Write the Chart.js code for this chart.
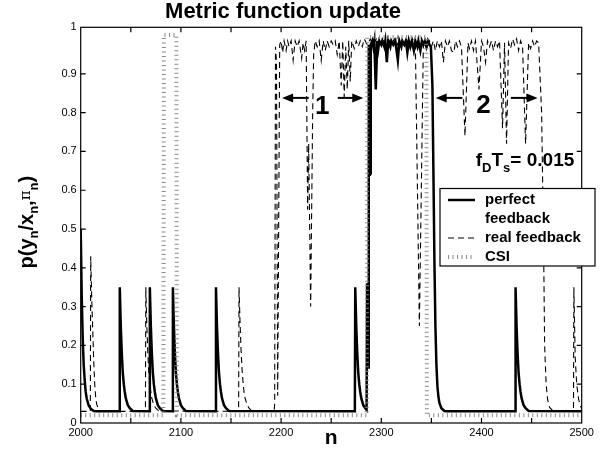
<!DOCTYPE html>
<html lang="en">
<head>
<meta charset="UTF-8">
<title>Metric function update</title>
<script src="https://cdn.jsdelivr.net/npm/chart.js"></script>
<style>
  html, body { margin: 0; padding: 0; background: #fff; }
  canvas { display: block; }
</style>
</head>
<body>
<canvas id="metric_chart" width="605" height="455"></canvas>
<script>
const FONT = "'Liberation Sans', Arial, Helvetica, sans-serif";

// axis ticks: labels every 100 on n, marks every 50
const xTickValues = [2000, 2100, 2200, 2300, 2400, 2500];
const xTickLabels = ['2000', '2100', '2200', '2300', '2400', '2500'];
const xTickMarks = [2050, 2100, 2150, 2200, 2250, 2300, 2350, 2400, 2450];
const yTickValues = [0, 0.1, 0.2, 0.3, 0.4, 0.5, 0.6, 0.7, 0.8, 0.9, 1.02];
const yTickLabels = ['0', '0.1', '0.2', '0.3', '0.4', '0.5', '0.6', '0.7', '0.8', '0.9', '1'];
const yTickMarks = [0.1, 0.2, 0.3, 0.4, 0.5, 0.6, 0.7, 0.8, 0.9];

const seriesNames = ['perfect feedback', 'real feedback', 'CSI'];
const legendText = [['perfect', 'feedback'], ['real feedback'], ['CSI']];

// [n, p]
const perfectFeedback = [
  [2000, 0.50], [2001, 0.33], [2002, 0.22], [2003, 0.15], [2004, 0.11], [2005, 0.08], [2006, 0.063],
  [2008, 0.045], [2010, 0.037], [2013, 0.031], [2016, 0.03],
  [2038.6, 0.03], [2039, 0.35], [2040, 0.25], [2041, 0.18], [2042, 0.13], [2043, 0.10], [2044, 0.08],
  [2045, 0.064], [2047, 0.046], [2049, 0.038], [2052, 0.031],
  [2068.6, 0.03], [2069, 0.35], [2070, 0.25], [2071, 0.18], [2072, 0.13], [2073, 0.10], [2074, 0.08],
  [2075, 0.064], [2077, 0.046], [2079, 0.038], [2082, 0.031],
  [2091.6, 0.03], [2092, 0.35], [2093, 0.25], [2094, 0.18], [2095, 0.13], [2096, 0.10], [2097, 0.08],
  [2098, 0.064], [2100, 0.046], [2102, 0.038], [2105, 0.031],
  [2134.6, 0.03], [2135, 0.35], [2136, 0.25], [2137, 0.18], [2138, 0.13], [2139, 0.10], [2140, 0.08],
  [2141, 0.064], [2143, 0.046], [2145, 0.038], [2148, 0.031],
  [2273.6, 0.03], [2274, 0.35], [2275, 0.25], [2276, 0.18], [2277, 0.13], [2278, 0.10], [2279, 0.08],
  [2280, 0.064], [2282, 0.046], [2284, 0.038],
  [2285.3, 0.034], [2285.8, 0.36], [2286.1, 0.14], [2286.4, 0.36], [2286.7, 0.14], [2287, 0.36],
  [2287.3, 0.14], [2287.7, 0.975], [2288, 0.64], [2288.3, 0.88], [2288.6, 0.64], [2288.9, 0.88],
  [2289.2, 0.64], [2289.7, 0.975], [2291, 0.985], [2292, 0.97], [2293, 0.985], [2294.5, 0.86],
  [2296, 0.985], [2297, 0.965], [2298, 0.985], [2300, 0.975], [2301, 0.985], [2303, 0.97],
  [2304, 0.985], [2305.5, 0.93], [2307, 0.985], [2309, 0.97], [2310, 0.985], [2312, 0.975],
  [2314, 0.985], [2316.5, 0.935], [2318, 0.985], [2320, 0.97], [2321, 0.985], [2323, 0.975],
  [2324.5, 0.985], [2326, 0.955], [2327.5, 0.985], [2329, 0.97], [2330.5, 0.985], [2332.5, 0.96],
  [2334, 0.985], [2336, 0.97], [2337, 0.985], [2339, 0.96], [2340.5, 0.985], [2342, 0.975],
  [2343.5, 0.985], [2345, 0.97], [2346.5, 0.985], [2348, 0.975], [2349.5, 0.97], [2351, 0.87],
  [2352, 0.65], [2353, 0.42], [2354, 0.25], [2355, 0.15], [2356, 0.095], [2357, 0.068],
  [2358, 0.052], [2360, 0.038], [2363, 0.031], [2366, 0.03],
  [2433.6, 0.03], [2434, 0.35], [2435, 0.25], [2436, 0.18], [2437, 0.13], [2438, 0.10], [2439, 0.08],
  [2440, 0.064], [2442, 0.046], [2444, 0.038], [2447, 0.031], [2500, 0.03]
];

const realFeedback = [
  [2000, 0.03], [2009.6, 0.03], [2010, 0.43], [2011, 0.32], [2012, 0.24], [2013, 0.16], [2014, 0.10],
  [2015, 0.065], [2016, 0.048], [2018, 0.035], [2021, 0.03],
  [2064.6, 0.03], [2065, 0.35], [2066, 0.25], [2067, 0.18], [2068, 0.13], [2069, 0.10], [2070, 0.08],
  [2071, 0.064], [2073, 0.046], [2075, 0.038], [2078, 0.031],
  [2157.6, 0.03], [2158, 0.35], [2159, 0.26], [2160, 0.19], [2161, 0.14], [2162, 0.105], [2163, 0.08],
  [2164, 0.065], [2166, 0.047], [2168, 0.038], [2171, 0.031],
  [2193, 0.03], [2193.6, 0.05], [2194.4, 0.97], [2195.4, 0.93], [2196.6, 0.07], [2198.6, 0.975],
  [2200, 0.985], [2201.5, 0.955], [2203, 0.985], [2205, 0.96], [2206.5, 0.985], [2208, 0.97],
  [2210, 0.985], [2212, 0.935], [2214, 0.985], [2216, 0.97], [2218, 0.985], [2220.5, 0.94],
  [2222, 0.98], [2223.5, 0.96], [2225, 0.985], [2226.5, 0.55], [2227.5, 0.72], [2229.5, 0.30],
  [2231.5, 0.80], [2232.5, 0.95], [2234, 0.985], [2236, 0.97], [2238, 0.985], [2240, 0.935],
  [2242, 0.985], [2244, 0.96], [2246, 0.985], [2248, 0.97], [2250, 0.985], [2252, 0.975],
  [2254, 0.985], [2256, 0.95], [2258, 0.985], [2260, 0.87], [2261.5, 0.985], [2263, 0.84],
  [2264.5, 0.97], [2266, 0.86], [2267.5, 0.985], [2269, 0.88], [2270.5, 0.985], [2273, 0.965],
  [2275, 0.985], [2277, 0.97], [2279, 0.985], [2281, 0.97], [2283, 0.99], [2286, 0.975],
  [2289, 0.99], [2292, 0.975], [2295, 0.99], [2298, 0.975], [2301, 0.99], [2304, 0.975],
  [2307, 0.99], [2310, 0.975], [2313, 0.99], [2316, 0.975], [2319, 0.99], [2322, 0.975],
  [2325, 0.99], [2328, 0.975], [2331, 0.99], [2334, 0.98], [2338, 0.25], [2342, 0.98],
  [2344, 0.985], [2346, 0.965], [2348, 0.985], [2350, 0.97], [2352, 0.985], [2354, 0.96],
  [2356, 0.985], [2358, 0.97], [2360, 0.985], [2362, 0.93], [2364, 0.985], [2366, 0.97],
  [2368, 0.985], [2370, 0.96], [2372.5, 0.955], [2374, 0.985], [2376, 0.97], [2378, 0.985],
  [2380, 0.97], [2383.5, 0.74], [2386.5, 0.98], [2388, 0.965], [2390, 0.985], [2392, 0.96],
  [2394, 0.985], [2397.5, 0.86], [2400, 0.985], [2402, 0.97], [2404, 0.93], [2406, 0.985],
  [2408, 0.97], [2410, 0.985], [2412, 0.96], [2414, 0.985], [2416, 0.97], [2418, 0.985],
  [2421, 0.76], [2423, 0.98], [2425, 0.72], [2427, 0.98], [2429, 0.965], [2431, 0.99],
  [2433, 0.975], [2435, 0.99], [2437, 0.96], [2439, 0.985], [2441, 0.97], [2444, 0.72],
  [2447, 0.98], [2449, 0.965], [2451, 0.985], [2453, 0.97], [2455, 0.985], [2457, 0.98],
  [2460, 0.80], [2462, 0.45], [2463, 0.20], [2464.5, 0.10], [2466, 0.06], [2468, 0.04],
  [2471, 0.032], [2491.8, 0.03], [2492.2, 0.35], [2493.5, 0.17], [2495, 0.10], [2497, 0.06],
  [2500, 0.035]
];

const csiMetric = [
  [2000, 0.02], [2082.5, 0.02], [2083, 1.0], [2095.5, 1.0], [2096, 0.02],
  [2285.5, 0.02], [2286, 0.995], [2345, 0.995], [2345.5, 0.02], [2500, 0.02]
];

// annotations, in data units
const arrowFrom = [2227.6, 2256.6, 2381, 2429.3];
const arrowTo = [2201, 2282, 2354.3, 2456];
const arrowLevel = 0.838;
const regionLabels = ['1', '2'];
const regionLabelN = [2241, 2402];
const regionLabelP = [0.816, 0.817];
const dopplerN = 2394.3;
const dopplerP = 0.662;

const toXY = pts => pts.map(([n, p]) => ({ x: n, y: p }));

function drawArrow(ctx, x0, x1, y) {
  const dir = Math.sign(x1 - x0);
  ctx.lineWidth = 2;
  ctx.beginPath();
  ctx.moveTo(x0, y);
  ctx.lineTo(x1 - dir * 8, y);
  ctx.stroke();
  ctx.beginPath();
  ctx.moveTo(x1, y);
  ctx.lineTo(x1 - dir * 11, y - 4.5);
  ctx.lineTo(x1 - dir * 11, y + 4.5);
  ctx.closePath();
  ctx.fill();
}

// draws a run of [text, font, dy] pieces starting at x
function drawPieces(ctx, pieces, x, y) {
  pieces.forEach(([t, f, dy]) => {
    ctx.font = f;
    ctx.fillText(t, x, y + dy);
    x += ctx.measureText(t).width;
  });
}
function piecesWidth(ctx, pieces) {
  return pieces.reduce((w, [t, f]) => { ctx.font = f; return w + ctx.measureText(t).width; }, 0);
}

const figureDecor = {
  id: 'figureDecor',
  afterDraw(chart) {
    const { ctx, chartArea: a, scales: { x, y } } = chart;
    ctx.save();
    ctx.fillStyle = '#000';
    ctx.strokeStyle = '#000';

    // box and inward ticks
    ctx.lineWidth = 1.2;
    ctx.strokeRect(a.left, a.top, a.right - a.left, a.bottom - a.top);
    ctx.beginPath();
    xTickMarks.forEach(v => {
      const px = x.getPixelForValue(v);
      ctx.moveTo(px, a.bottom); ctx.lineTo(px, a.bottom - 5);
      ctx.moveTo(px, a.top); ctx.lineTo(px, a.top + 5);
    });
    yTickMarks.forEach(v => {
      const py = y.getPixelForValue(v);
      ctx.moveTo(a.left, py); ctx.lineTo(a.left + 5, py);
      ctx.moveTo(a.right, py); ctx.lineTo(a.right - 5, py);
    });
    ctx.stroke();

    // title
    ctx.font = 'bold 22px ' + FONT;
    ctx.textAlign = 'center';
    ctx.textBaseline = 'middle';
    ctx.fillText('Metric function update', 283, 12);

    // y label with subscripts
    const sub = 'bold 13px ' + FONT, big = 'bold 20px ' + FONT;
    const yLabel = [['p(y', big, 0], ['n', sub, 5], ['/x', big, 0], ['n', sub, 5], [',', big, 0],
                    ['\u03C0', '15px "DejaVu Serif", serif', -3], ['n', sub, 5], [')', big, 0]];
    ctx.save();
    ctx.translate(26, (a.top + a.bottom) / 2 - 3);
    ctx.rotate(-Math.PI / 2);
    ctx.textAlign = 'left';
    ctx.textBaseline = 'alphabetic';
    drawPieces(ctx, yLabel, -piecesWidth(ctx, yLabel) / 2, 7);
    ctx.restore();

    // region arrows and numbers
    const ay = y.getPixelForValue(arrowLevel);
    arrowFrom.forEach((n, i) => drawArrow(ctx, x.getPixelForValue(n), x.getPixelForValue(arrowTo[i]), ay));
    ctx.font = 'bold 26px ' + FONT;
    ctx.textAlign = 'center';
    ctx.textBaseline = 'middle';
    regionLabels.forEach((t, i) =>
      ctx.fillText(t, x.getPixelForValue(regionLabelN[i]), y.getPixelForValue(regionLabelP[i])));

    // f_D T_s = 0.015
    ctx.textAlign = 'left';
    ctx.textBaseline = 'alphabetic';
    const fs = 'bold 19px ' + FONT, fsub = 'bold 13px ' + FONT;
    drawPieces(ctx, [['f', fs, 0], ['D', fsub, 6], ['T', fs, 0], ['s', fsub, 6], ['= 0.015', fs, 0]],
               x.getPixelForValue(dopplerN), y.getPixelForValue(dopplerP));

    // legend
    const lx = 440, ly = 188.5, lw = 155, lh = 77.5;
    ctx.fillStyle = '#fff';
    ctx.fillRect(lx, ly, lw, lh);
    ctx.lineWidth = 1.2;
    ctx.strokeStyle = '#000';
    ctx.strokeRect(lx, ly, lw, lh);
    ctx.fillStyle = '#000';
    ctx.font = 'bold 15px ' + FONT;
    ctx.textBaseline = 'middle';
    let rowY = ly + 11.5;
    chart.data.datasets.forEach((ds, i) => {
      ctx.save();
      ctx.strokeStyle = ds.borderColor;
      ctx.lineWidth = ds.borderWidth;
      ctx.setLineDash(ds.borderDash || []);
      ctx.beginPath();
      ctx.moveTo(lx + 8, rowY);
      ctx.lineTo(lx + 35, rowY);
      ctx.stroke();
      ctx.restore();
      legendText[i].forEach(line => {
        ctx.fillText(line, lx + 45, rowY);
        rowY += 19;
      });
    });
    ctx.restore();
  }
};

new Chart(document.getElementById('metric_chart'), {
  type: 'line',
  data: {
    datasets: [
      { label: seriesNames[0], data: toXY(perfectFeedback), borderColor: '#000', borderWidth: 2.5, order: 3 },
      { label: seriesNames[1], data: toXY(realFeedback), borderColor: '#000', borderWidth: 1.1, borderDash: [6, 4], order: 2 },
      { label: seriesNames[2], data: toXY(csiMetric), borderColor: '#8a8a8a', borderWidth: 4, borderDash: [1, 3.5], order: 1 }
    ]
  },
  options: {
    responsive: false,
    animation: false,
    devicePixelRatio: 1,
    elements: { point: { radius: 0 }, line: { tension: 0, borderCapStyle: 'butt' } },
    layout: { padding: { left: 0, right: 23.3, top: 27.3, bottom: 0 } },
    plugins: { legend: { display: false }, tooltip: { enabled: false }, title: { display: false } },
    scales: {
      x: {
        type: 'linear', min: 2000, max: 2500,
        afterBuildTicks: s => { s.ticks = xTickValues.map(v => ({ value: v })); },
        afterFit: s => { s.height = 32; },
        ticks: { autoSkip: false, maxRotation: 0, padding: 3, color: '#000', font: { family: FONT, size: 11 },
                 callback: (v, i) => xTickLabels[i] },
        grid: { display: false, drawTicks: false },
        border: { display: false },
        title: { display: true, text: 'n', color: '#000', font: { family: FONT, size: 21, weight: 'bold' }, padding: { top: 0, bottom: 4 } }
      },
      y: {
        type: 'linear', min: 0, max: 1.02,
        afterBuildTicks: s => { s.ticks = yTickValues.map(v => ({ value: v })); },
        afterFit: s => { s.width = 80.7; },
        ticks: { autoSkip: false, padding: 4, color: '#000', font: { family: FONT, size: 11 },
                 callback: (v, i) => yTickLabels[i] },
        grid: { display: false, drawTicks: false },
        border: { display: false }
      }
    }
  },
  plugins: [figureDecor]
});
</script>
</body>
</html>
